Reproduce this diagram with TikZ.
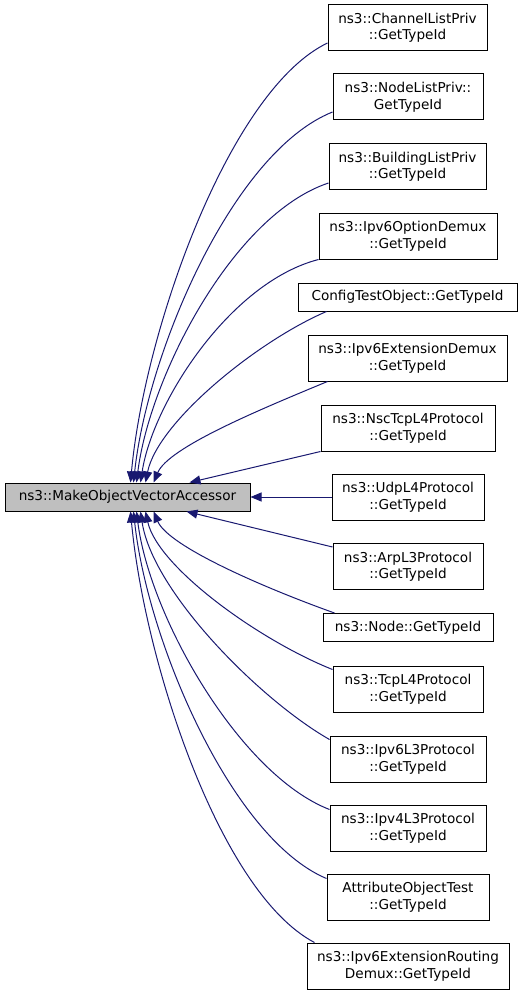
\documentclass[tikz,border=0pt]{standalone}
\usepackage{fontspec}
\setmainfont{DejaVu Sans}
\usetikzlibrary{arrows.meta,calc}
\definecolor{edgeblue}{HTML}{191970}
\definecolor{maingray}{HTML}{BFBFBF}
\begin{document}
\begin{tikzpicture}[x=1pt,y=-1pt,
  box/.style={draw=black,line width=1pt,fill=white,inner sep=0pt,align=center,
    font=\fontsize{13.6}{16.5}\selectfont},
  two/.style={box,minimum height=46pt},
  one/.style={box,minimum height=28pt},
  edge/.style={draw=edgeblue,line width=1pt,-{Triangle[length=11pt,width=9pt]}}]
\useasboundingbox (0,0) rectangle (523,995);
\node[one,fill=maingray,minimum width=245pt] (main) at (127.5,497) {ns3::MakeObjectVectorAccessor};
\node[two,minimum width=159pt] (n1) at (407.5,28) {ns3::ChannelListPriv\\::GetTypeId};
\node[two,minimum width=150pt] (n2) at (408,97) {ns3::NodeListPriv::\\GetTypeId};
\node[two,minimum width=157pt] (n3) at (407.5,166.5) {ns3::BuildingListPriv\\::GetTypeId};
\node[two,minimum width=178pt] (n4) at (408,236) {ns3::Ipv6OptionDemux\\::GetTypeId};
\node[one,minimum width=219pt] (n5) at (407.5,297) {ConfigTestObject::GetTypeId};
\node[two,minimum width=199pt] (n6) at (407.5,358) {ns3::Ipv6ExtensionDemux\\::GetTypeId};
\node[two,minimum width=174pt] (n7) at (408,428) {ns3::NscTcpL4Protocol\\::GetTypeId};
\node[two,minimum width=152pt] (n8) at (408,497) {ns3::UdpL4Protocol\\::GetTypeId};
\node[two,minimum width=150pt] (n9) at (408,566.5) {ns3::ArpL3Protocol\\::GetTypeId};
\node[one,minimum width=170pt] (n10) at (408,627.5) {ns3::Node::GetTypeId};
\node[two,minimum width=150pt] (n11) at (408,689) {ns3::TcpL4Protocol\\::GetTypeId};
\node[two,minimum width=156pt] (n12) at (408,759) {ns3::Ipv6L3Protocol\\::GetTypeId};
\node[two,minimum width=156pt] (n13) at (408,828) {ns3::Ipv4L3Protocol\\::GetTypeId};
\node[two,minimum width=162pt] (n14) at (408,897) {AttributeObjectTest\\::GetTypeId};
\node[two,minimum width=202pt] (n15) at (408,966) {ns3::Ipv6ExtensionRouting\\Demux::GetTypeId};
% top edges
\draw[edge] ($(n1.west)+(0,15)$) .. controls +(-98,47) and +(14,-153) .. ($(main.north west)+(126,0)$);
\draw[edge] ($(n2.west)+(0,15)$) .. controls +(-100,40) and +(14,-130) .. ($(main.north west)+(129,0)$);
\draw[edge] ($(n3.west)+(0,16.5)$) .. controls +(-96,32) and +(13,-105) .. ($(main.north west)+(132,0)$);
\draw[edge] (n4.south west) .. controls +(-89,23) and +(12,-79) .. ($(main.north west)+(136,0)$);
\draw[edge] ($(n5.south west)+(29,0)$) .. controls +(-70,30) and +(12,-60) .. ($(main.north west)+(141,0)$);
\draw[edge] ($(n6.south west)+(20,0)$) .. controls +(-70,29) and +(15,-35) .. ($(main.north west)+(149,0)$);
\draw[edge] (n7.south west) -- ($(main.north west)+(185,0)$);
\draw[edge] (n8.west) -- (main.east);
% bottom edges
\draw[edge] ($(n9.north west)+(0,4)$) -- ($(main.south west)+(182,0)$);
\draw[edge] ($(n10.north west)+(12,0)$) .. controls +(-70,-25) and +(15,35) .. ($(main.south west)+(149,0)$);
\draw[edge] ($(n11.north west)+(0,4)$) .. controls +(-75,-30) and +(12,55) .. ($(main.south west)+(141,0)$);
\draw[edge] ($(n12.north west)+(0,4)$) .. controls +(-70,-40) and +(12,80) .. ($(main.south west)+(136,0)$);
\draw[edge] ($(n13.north west)+(0,5)$) .. controls +(-90,-35) and +(13,105) .. ($(main.south west)+(132,0)$);
\draw[edge] ($(n14.north west)+(0,5)$) .. controls +(-95,-40) and +(14,130) .. ($(main.south west)+(129,0)$);
\draw[edge] ($(n15.north west)+(8,0)$) .. controls +(-95,-50) and +(14,150) .. ($(main.south west)+(126,0)$);
\end{tikzpicture}
\end{document}
